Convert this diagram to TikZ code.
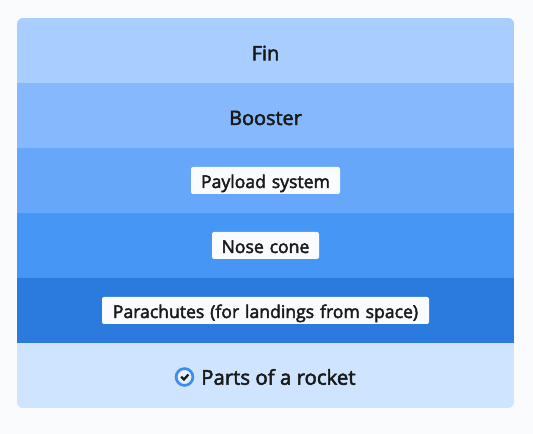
\documentclass[tikz,border=0pt]{standalone}
\usepackage{fontspec}
\setmainfont{Open Sans}
\newfontfamily\midfont[FakeBold=2.5]{Open Sans}
\definecolor{pagebg}{HTML}{F9FBFD}
\definecolor{inkcol}{HTML}{1A1A1A}
\definecolor{ringcol}{HTML}{3D8BEB}
\definecolor{bandA}{HTML}{A8CDFF}
\definecolor{bandB}{HTML}{85B8FC}
\definecolor{bandC}{HTML}{66A7FA}
\definecolor{bandD}{HTML}{4596F5}
\definecolor{bandE}{HTML}{2B7ADE}
\definecolor{bandF}{HTML}{CFE5FF}
\tikzset{
  plainlabel/.style={text=inkcol,inner sep=0pt,font=\fontsize{14.9}{17}\midfont},
  boxlabel/.style={fill=pagebg,text=inkcol,rounded corners=1.5pt,inner sep=0pt,text height=15.75pt,text depth=4.5pt,font=\fontsize{13.2}{15}\midfont},
}
\begin{document}
\begin{tikzpicture}[x=0.75pt,y=-0.75pt]
\useasboundingbox (0,0) rectangle (533,434);
\fill [pagebg] (0,0) rectangle (533,434);
% bands, clipped to the rounded card
\begin{scope}
\clip [rounded corners=4.5pt] (17,18) rectangle (514,408);
\foreach \bandcol [count=\i from 0] in {bandA,bandB,bandC,bandD,bandE,bandF}
  \fill [\bandcol] (17,18+65*\i) rectangle (514,83+65*\i);
\end{scope}
\node [plainlabel] (fin) at (265.5,53) {Fin};
\node [plainlabel] (booster) at (265.5,118) {Booster};
\node [boxlabel,text width=111.75pt,align=center] (payload) at (265.5,180.5) {Payload system};
\node [boxlabel,text width=80.25pt,align=center] (nose) at (265.5,245.5) {Nose cone};
\node [boxlabel,text width=245.25pt,align=center] (parachutes) at (265.5,310.5) {Parachutes (for landings from space)};
\node [plainlabel,font=\fontsize{15.3}{18}\midfont,anchor=west] (title) at (201,377) {Parts of a rocket};
% check icon
\draw [ringcol,line width=2pt,fill=bandF!55!white] (184.5,377) circle (8.4);
\draw [inkcol,line width=1.7pt] (181.2,376.8) -- (183.9,379.5) -- (188.4,374.6);
\end{tikzpicture}
\end{document}
